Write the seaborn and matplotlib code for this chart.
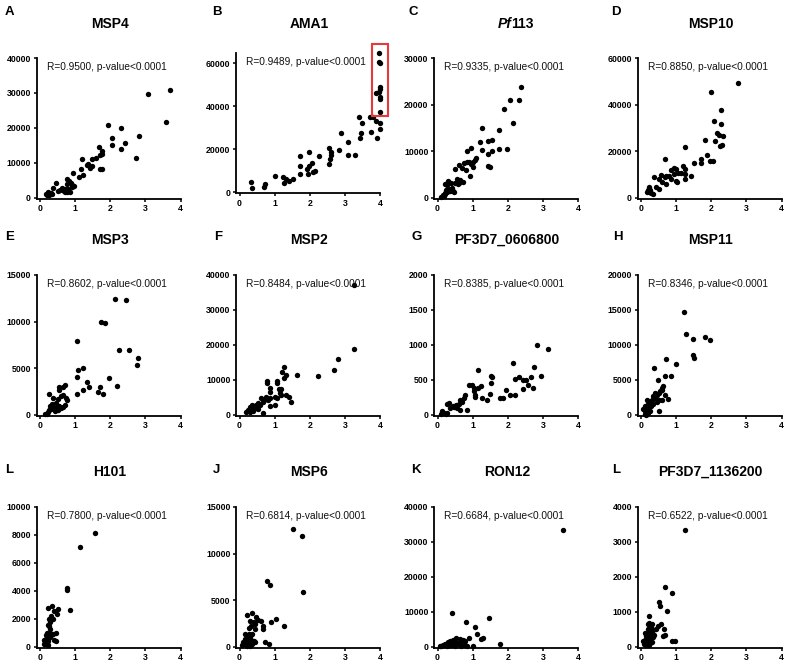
import matplotlib
matplotlib.use("Agg")
import matplotlib.pyplot as plt
from matplotlib.patches import Rectangle
import seaborn as sns
import pandas as pd

# ---- data: (x, y) pairs ----
msp4 = [(3.71, 30900), (3.08, 29700), (3.6, 21700), (1.93, 20800), (2.31, 20000), (2.05, 17000),
        (2.81, 17800), (2.41, 15800), (2.05, 15000), (1.67, 14600), (2.31, 14100), (1.76, 13400),
        (1.76, 12700), (1.71, 12300), (1.6, 11500), (2.73, 11300), (1.19, 11100), (1.48, 11000),
        (1.38, 9600), (1.33, 9400), (1.49, 9100), (1.41, 8600), (1.7, 8300), (1.76, 8300),
        (1.16, 8200), (0.93, 7200), (1.22, 6700), (1.11, 6000), (0.76, 5300), (0.83, 4800),
        (0.46, 4400), (0.88, 4400), (0.76, 3900), (0.9, 3600), (0.98, 3400), (0.62, 2900),
        (0.38, 2700), (0.71, 2500), (0.81, 2500), (0.57, 2300), (0.67, 1900), (0.76, 1700),
        (0.86, 1700), (0.52, 2000), (0.24, 1700), (0.29, 1200), (0.35, 1000), (0.16, 1000),
        (0.26, 800), (0.7, 1800), (0.8, 2100), (0.65, 2200), (0.9, 3100), (0.3, 1400), (0.2, 900)]

ama1 = [(3.98, 64600), (3.98, 60800), (4.0, 60000), (4.0, 49000), (4.0, 48000), (3.98, 46700),
        (3.9, 46000), (3.99, 44400), (4.01, 43300), (4.0, 37500), (3.39, 34900), (3.72, 34900),
        (3.8, 34900), (3.9, 33400), (4.0, 32100), (3.5, 32100), (4.0, 29400), (3.45, 27500),
        (3.73, 28300), (2.9, 27500), (3.43, 25200), (3.92, 25500), (3.1, 23300), (2.55, 20700),
        (2.82, 19900), (2.61, 18800), (1.99, 18700), (2.61, 17400), (3.1, 17600), (3.29, 17500),
        (2.27, 16800), (1.73, 16800), (2.58, 15600), (2.05, 13800), (2.55, 13300), (1.99, 12200),
        (1.73, 12200), (1.92, 10700), (2.16, 9900), (2.08, 9500), (1.94, 8400), (1.73, 8400),
        (1.02, 7650), (1.23, 7300), (1.32, 6100), (1.51, 6400), (1.4, 5200), (1.27, 4600),
        (0.33, 4900), (0.73, 3700), (0.69, 2750), (0.36, 2000)]

pf113 = [(2.38, 23700), (2.05, 21000), (2.33, 21000), (1.88, 19100), (2.15, 16000), (1.28, 15100),
         (1.75, 14600), (1.55, 12500), (1.43, 12100), (1.2, 12000), (0.95, 10800), (0.85, 10100),
         (1.28, 10300), (1.75, 10500), (1.98, 10500), (1.55, 10000), (1.43, 9500), (1.1, 8500),
         (1.08, 8200), (1.02, 7800), (0.85, 7600), (0.9, 7700), (0.95, 7300), (0.75, 7400),
         (0.6, 7100), (0.5, 6300), (0.7, 6400), (1.0, 6600), (0.82, 5900), (1.45, 6800),
         (1.5, 6700), (0.92, 4700), (0.55, 4000), (0.65, 3900), (0.72, 3500), (0.6, 3300),
         (0.5, 3100), (0.58, 3000), (0.3, 3700), (0.2, 3000), (0.38, 3100), (0.28, 2800),
         (0.4, 2200), (0.3, 2000), (0.25, 1800), (0.45, 1400), (0.4, 1700), (0.35, 1500),
         (0.2, 1000), (0.15, 600), (0.18, 400), (0.1, 200), (0.22, 800), (0.28, 1200), (0.48, 1200)]

msp10 = [(2.76, 49400), (2.0, 45600), (2.27, 37500), (2.08, 32800), (2.27, 31800), (2.17, 27900),
         (2.22, 27200), (2.33, 26500), (1.81, 24800), (2.12, 24600), (2.3, 22500), (2.24, 22200),
         (1.24, 21800), (1.89, 18300), (1.97, 15800), (2.05, 15800), (1.7, 16600), (1.7, 15100),
         (1.5, 15100), (0.67, 16800), (0.95, 13000), (1.19, 13700), (1.24, 12300), (1.0, 12300),
         (0.86, 12000), (1.14, 10900), (1.24, 10200), (1.05, 10900), (0.95, 10200), (1.41, 9500),
         (0.57, 9800), (0.71, 9500), (0.81, 9500), (0.38, 8800), (0.67, 8800), (0.52, 8100),
         (1.24, 8100), (0.86, 8100), (1.0, 7400), (1.03, 6900), (0.71, 5900), (0.43, 4500),
         (0.5, 3800), (0.22, 4500), (0.2, 3500), (0.24, 2700), (0.29, 2000), (0.17, 2700),
         (0.33, 1550), (0.25, 3200), (0.6, 7000)]

msp3 = [(2.13, 12400), (2.45, 12300), (1.75, 10000), (1.85, 9850), (1.05, 7900), (2.25, 7000),
        (2.52, 7000), (2.78, 6100), (2.75, 5400), (1.22, 5000), (1.07, 4850), (1.05, 4100),
        (1.95, 4000), (1.35, 3550), (1.4, 2950), (1.72, 2950), (2.18, 3150), (1.65, 2450),
        (1.8, 2250), (1.22, 2700), (1.05, 2200), (0.7, 3200), (0.65, 3000), (0.55, 2950),
        (0.55, 2650), (0.25, 2250), (0.38, 1850), (0.6, 2000), (0.65, 2100), (0.75, 1800),
        (0.78, 1550), (0.5, 1700), (0.7, 1100), (0.65, 800), (0.45, 1300), (0.35, 1000),
        (0.28, 950), (0.4, 700), (0.5, 500), (0.42, 400), (0.3, 600), (0.22, 300), (0.15, 150),
        (0.2, 100), (0.25, 500), (0.35, 1200), (0.48, 900), (0.55, 1000), (0.6, 700)]

msp2 = [(3.26, 37100), (3.26, 18750), (2.79, 16000), (2.7, 12750), (2.24, 11100), (1.64, 11300),
        (1.27, 13800), (1.22, 12400), (1.33, 11400), (1.26, 10500), (1.08, 9800), (1.08, 9200),
        (0.79, 9800), (0.79, 9100), (1.12, 7400), (1.19, 7400), (0.86, 7600), (1.14, 6200),
        (1.19, 5700), (1.33, 5700), (1.41, 5200), (1.46, 3600), (0.88, 6700), (1.0, 5200),
        (1.07, 4800), (0.76, 5200), (0.86, 4800), (0.62, 4800), (0.71, 4300), (0.81, 4300),
        (0.67, 3800), (0.52, 3300), (0.59, 2900), (1.0, 2900), (0.86, 2600), (0.46, 2900),
        (0.36, 2700), (0.29, 2400), (0.33, 1900), (0.48, 2100), (0.52, 1600), (0.24, 1400),
        (0.38, 1100), (0.19, 950), (0.67, 670), (0.29, 760)]

pf3d7_0606800 = [(2.84, 993), (3.15, 940), (2.16, 740), (2.74, 680), (2.94, 550), (2.32, 537),
                 (2.2, 513), (2.42, 504), (2.53, 504), (2.67, 537), (2.58, 423), (2.44, 375),
                 (2.73, 380), (2.06, 285), (2.21, 280), (1.95, 356), (1.77, 242), (1.87, 247),
                 (1.52, 556), (1.54, 541), (1.52, 456), (1.5, 304), (1.42, 218), (1.26, 242),
                 (1.16, 636), (1.25, 408), (1.14, 385), (1.04, 385), (0.97, 423), (0.9, 432),
                 (1.04, 337), (1.06, 290), (1.07, 252), (0.78, 290), (0.76, 242), (0.64, 209),
                 (0.71, 185), (0.62, 161), (0.83, 76), (0.52, 138), (0.43, 124), (0.47, 114),
                 (0.36, 100), (0.55, 100), (0.28, 157), (0.33, 171), (0.63, 76), (0.14, 52),
                 (0.19, 28), (0.24, 19), (0.09, 19), (0.28, 28)]

msp11 = [(1.21, 14700), (1.29, 11500), (1.83, 11150), (1.95, 10700), (1.47, 10800), (1.49, 8600),
         (1.5, 8150), (1.0, 7300), (0.71, 8000), (0.38, 6700), (0.86, 5600), (0.69, 5600),
         (0.48, 5000), (0.78, 2300), (0.69, 2900), (0.64, 4100), (0.61, 3900), (0.59, 3600),
         (0.54, 3400), (0.5, 3100), (0.4, 3100), (0.45, 2900), (0.35, 2700), (0.4, 2400),
         (0.51, 2200), (0.59, 2200), (0.3, 2100), (0.26, 1860), (0.21, 1570), (0.45, 1800),
         (0.35, 1570), (0.16, 2200), (0.5, 620), (0.29, 1240), (0.21, 1000), (0.11, 1240),
         (0.07, 860), (0.11, 620), (0.16, 430), (0.19, 240), (0.26, 530), (0.1, 190), (0.13, 50)]

h101 = [(1.57, 8170), (1.13, 7140), (0.77, 4240), (0.76, 4050), (0.84, 2640), (0.24, 2810),
        (0.35, 2900), (0.52, 2740), (0.41, 2570), (0.48, 2330), (0.31, 2190), (0.36, 2020),
        (0.26, 1980), (0.29, 1790), (0.24, 1600), (0.26, 1480), (0.29, 1310), (0.45, 1000),
        (0.38, 900), (0.29, 1000), (0.31, 830), (0.19, 1000), (0.17, 830), (0.19, 670),
        (0.24, 600), (0.29, 710), (0.41, 520), (0.45, 400), (0.12, 520), (0.14, 360),
        (0.1, 240), (0.14, 190), (0.19, 290), (0.22, 430), (0.24, 170), (0.16, 600)]

msp6 = [(1.52, 12640), (1.78, 11930), (1.8, 5860), (0.78, 7060), (0.87, 6600), (1.05, 2950),
        (0.89, 2630), (1.27, 2270), (0.73, 500), (0.85, 355), (0.35, 3690), (0.21, 3400),
        (0.48, 3160), (0.54, 2840), (0.6, 2730), (0.4, 2630), (0.3, 2800), (0.66, 2200),
        (0.66, 1920), (0.43, 2450), (0.33, 2200), (0.26, 2020), (0.43, 1950), (0.16, 1420),
        (0.26, 1420), (0.35, 1420), (0.21, 1140), (0.3, 1070), (0.16, 850), (0.24, 670),
        (0.33, 780), (0.4, 670), (0.11, 500), (0.16, 355), (0.26, 355), (0.35, 280),
        (0.43, 500), (0.07, 210), (0.21, 140), (0.3, 70)]

ron12 = [(3.57, 33500), (0.42, 9570), (0.82, 7180), (1.46, 8330), (1.08, 5740), (1.13, 3830),
         (0.89, 2680), (1.23, 2200), (1.3, 2580), (1.78, 860), (1.02, 380), (0.54, 2580),
         (0.64, 2390), (0.73, 2100), (0.78, 1720), (0.45, 1910), (0.35, 1720), (0.3, 1430),
         (0.4, 1150), (0.49, 1430), (0.59, 1240), (0.68, 960), (0.21, 960), (0.26, 670),
         (0.16, 480), (0.11, 290), (0.35, 480), (0.45, 670), (0.54, 960), (0.64, 670),
         (0.78, 480), (0.07, 190), (0.28, 190), (0.49, 290), (0.68, 290), (0.83, 190)]

pf3d7_1136200 = [(1.24, 3340), (0.68, 1725), (0.87, 1555), (0.5, 1280), (0.55, 1160), (0.74, 1040),
                 (0.24, 890), (0.19, 660), (0.24, 680), (0.31, 650), (0.57, 650), (0.48, 590),
                 (0.43, 510), (0.65, 510), (0.29, 570), (0.19, 510), (0.33, 470), (0.11, 400),
                 (0.67, 350), (0.62, 300), (0.24, 420), (0.29, 380), (0.38, 350), (0.14, 300),
                 (0.21, 280), (0.27, 260), (0.33, 280), (0.88, 180), (0.97, 180), (0.1, 210),
                 (0.17, 180), (0.24, 160), (0.3, 150), (0.27, 110), (0.19, 90), (0.11, 130),
                 (0.08, 70), (0.14, 50), (0.24, 50), (0.05, 160)]

r_values = ["0.9500", "0.9489", "0.9335", "0.8850", "0.8602", "0.8484",
            "0.8385", "0.8346", "0.7800", "0.6814", "0.6684", "0.6522"]
titles = ["MSP4", "AMA1", "Pf113", "MSP10", "MSP3", "MSP2",
          "PF3D7_0606800", "MSP11", "H101", "MSP6", "RON12", "PF3D7_1136200"]
letters = ["A", "B", "C", "D", "E", "F", "G", "H", "L", "J", "K", "L"]
y_max = [40000, 65000, 30000, 60000, 15000, 40000, 2000, 20000, 10000, 15000, 40000, 4000]
y_step = [10000, 20000, 10000, 20000, 5000, 10000, 500, 5000, 2000, 5000, 10000, 1000]
datasets = [msp4, ama1, pf113, msp10, msp3, msp2,
            pf3d7_0606800, msp11, h101, msp6, ron12, pf3d7_1136200]

# ---- layout (pixels) ----
W, H = 786, 664
col_left = [36.5, 236, 434, 637.5]
row_bottom = [198.5, 415.5, 647.5]
row_title = [24, 240, 472]
row_letter = [12, 237, 470]
letter_x = [5, 5, 5], [212, 214, 213], [409, 411, 411], [611, 613, 612]
ax_w, ax_h = 144, 140.5


def fx(px):
    return px / W


def fy(py):
    return 1 - py / H


sns.set_theme(style="ticks")
plt.rcParams["font.family"] = ["Liberation Sans", "DejaVu Sans"]
plt.rcParams["text.color"] = "black"

fig = plt.figure(figsize=(W / 100, H / 100), dpi=100)

for i, pts in enumerate(datasets):
    row, col = divmod(i, 4)
    bottom = row_bottom[row]
    if i == 1:
        bottom = 193
    ax = fig.add_axes([fx(col_left[col]), fy(bottom), ax_w / W, ax_h / H])
    df = pd.DataFrame(pts, columns=["x", "y"])
    sns.scatterplot(data=df, x="x", y="y", ax=ax, color="black", s=15,
                    linewidth=0, clip_on=False, zorder=3)
    ax.set_xlim(-0.1, 4)
    ax.set_ylim(-y_max[i] * 0.004, y_max[i])
    ax.set_xticks(range(0, 5))
    yt = list(range(0, y_max[i] + 1, y_step[i]))
    ax.set_yticks(yt)
    ax.set_yticklabels([str(v) for v in yt])
    ax.set_xlabel("")
    ax.set_ylabel("")
    sns.despine(ax=ax)
    for s in ("left", "bottom"):
        ax.spines[s].set_linewidth(1.3)
        ax.spines[s].set_color("black")
    ax.tick_params(direction="out", length=2.5, width=1.1, labelsize=6.3,
                   pad=1.5, colors="black")
    for lab in ax.get_xticklabels() + ax.get_yticklabels():
        lab.set_fontweight("bold")
    ax.annotate(f"R={r_values[i]}, p-value<0.0001", xy=(0, 1), xycoords="axes fraction",
                xytext=(7.5, -6.5), textcoords="offset points", va="center", ha="left",
                fontsize=7.3, color="#111111")

    cx = fx(col_left[col] + ax_w / 2 + 1)
    ty = fy(row_title[row])
    if titles[i] == "Pf113":
        split = fx(col_left[col] + ax_w / 2 + 5.5)
        fig.text(split, ty, "Pf", ha="right", va="center", fontsize=10,
                 fontweight="bold", fontstyle="italic")
        fig.text(split, ty, "113", ha="left", va="center", fontsize=10, fontweight="bold")
    else:
        fig.text(cx, ty, titles[i], ha="center", va="center", fontsize=10, fontweight="bold")
    fig.text(fx(letter_x[col][row]), fy(row_letter[row]), letters[i], ha="left",
             va="center", fontsize=9.5, fontweight="bold")

    if i == 1:
        ax.add_patch(Rectangle((3.76, 35500), 0.46, 33300, fill=False,
                               edgecolor="#e8383d", linewidth=1.5, clip_on=False, zorder=4))

fig.savefig("out.png", dpi=100)
